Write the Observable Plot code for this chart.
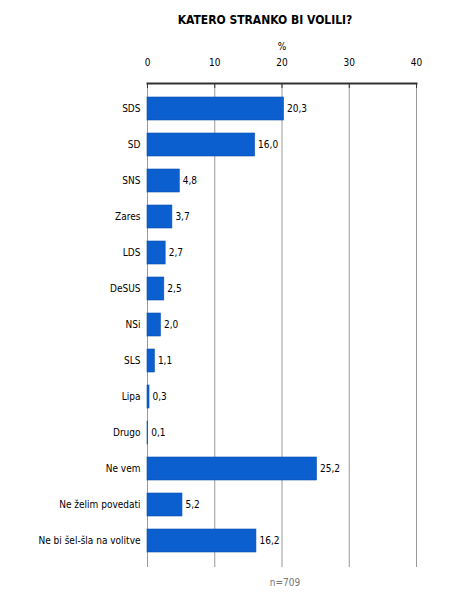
<!DOCTYPE html>
<html>
<head>
<meta charset="utf-8">
<script src="https://cdn.jsdelivr.net/npm/d3@7"></script>
<script src="https://cdn.jsdelivr.net/npm/@observablehq/plot@0.6"></script>
<style>
body { margin: 0; background: #fff; font-family: "DejaVu Sans Condensed", "DejaVu Sans", sans-serif; }
#title { height: 30px; box-sizing: border-box; padding-top: 12px; padding-left: 80px; text-align: center; font-weight: bold; font-size: 12px; color: #000; line-height: 16px; }
#note { text-align: center; padding-left: 120px; font-size: 10px; color: #777; margin-top: 7px; }
</style>
</head>
<body>
<div id="title">KATERO STRANKO BI VOLILI?</div>
<div id="chart"></div>
<div id="note">n=709</div>
<script>
const categories = ["SDS", "SD", "SNS", "Zares", "LDS", "DeSUS", "NSi", "SLS", "Lipa", "Drugo", "Ne vem", "Ne želim povedati", "Ne bi šel-šla na volitve"];
const values = [20.3, 16.0, 4.8, 3.7, 2.7, 2.5, 2.0, 1.1, 0.3, 0.1, 25.2, 5.2, 16.2];
const xTicks = [0, 10, 20, 30, 40];

const data = categories.map((c, i) => ({category: c, value: values[i]}));
const fmt = v => v.toFixed(1).replace(".", ",");

const chart = Plot.plot({
  width: 450,
  height: 540,
  marginTop: 53,
  marginBottom: 3,
  marginLeft: 147,
  marginRight: 34,
  style: {fontFamily: "'DejaVu Sans Condensed', 'DejaVu Sans', sans-serif", fontSize: "10px", color: "#000"},
  x: {domain: [0, 40], ticks: xTicks, axis: null, label: null},
  y: {domain: categories, padding: 0.35, axis: null, label: null},
  marks: [
    Plot.gridX(xTicks, {stroke: "#999", strokeOpacity: 1, strokeWidth: 1}),
    Plot.barX(data, {y: "category", x: "value", fill: "#0b5fce", stroke: "#0a4fb0", strokeWidth: 0.6}),
    Plot.axisX(xTicks, {anchor: "top", tickSize: 0, tickPadding: 18, fontSize: 10, label: null, tickFormat: d => d}),
    Plot.axisX(xTicks, {anchor: "top", tickSize: -4, text: null, label: null, stroke: "#333"}),
    Plot.frame({anchor: "top", stroke: "#333", strokeWidth: 2}),
    Plot.axisY({anchor: "left", tickSize: 0, tickPadding: 7, fontSize: 10, label: null}),
    Plot.text(data, {y: "category", x: "value", text: d => fmt(d.value), textAnchor: "start", dx: 3, fontSize: 10, fill: "#000"}),
    Plot.text(["%"], {frameAnchor: "top", dy: -41, fontSize: 10, fill: "#000"})
  ]
});
document.getElementById("chart").appendChild(chart);
</script>
</body>
</html>
